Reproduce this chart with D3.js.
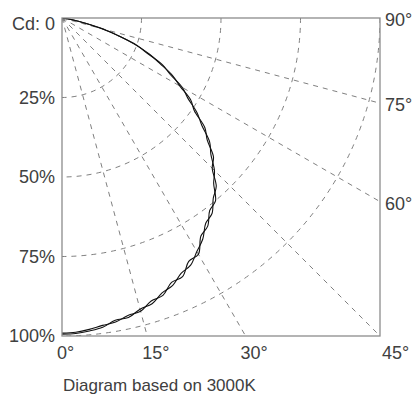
<!DOCTYPE html>
<html>
<head>
<meta charset="utf-8">
<script src="https://cdn.jsdelivr.net/npm/d3@7"></script>
<style>
  body { margin: 0; background: #fff; }
  text { font-family: "Liberation Sans", Arial, sans-serif; fill: #404040; }
</style>
</head>
<body>
<div id="chart"></div>
<script>
// angles (deg, 0 = straight down) and relative intensity of the two curves
var angles = [0, 2.5, 5, 7.5, 10, 12.5, 15, 17.5, 20, 22.5, 25, 27.5, 30, 32.5, 35, 37.5, 40, 42.5,
  45, 47.5, 50, 52.5, 55, 57.5, 60, 62.5, 65, 67.5, 70, 72.5, 75, 77.5, 80, 82.5, 85, 87.5, 90];
var curveA = [0.994, 0.993, 0.988, 0.981, 0.965, 0.965, 0.948, 0.942, 0.920, 0.910, 0.886, 0.876, 0.848, 0.824,
  0.788, 0.775, 0.740, 0.718, 0.668, 0.646, 0.596, 0.566, 0.508, 0.480, 0.428, 0.392, 0.341, 0.298,
  0.245, 0.190, 0.130, 0.075, 0.035, 0.012, 0.003, 0, 0];
var curveB = [0.991, 0.989, 0.983, 0.975, 0.971, 0.958, 0.955, 0.933, 0.928, 0.900, 0.897, 0.863, 0.858, 0.813,
  0.799, 0.763, 0.751, 0.706, 0.678, 0.635, 0.606, 0.554, 0.518, 0.469, 0.437, 0.383, 0.349, 0.290,
  0.250, 0.185, 0.134, 0.072, 0.037, 0.011, 0.003, 0, 0];

var leftLabels = ["Cd: 0", "25%", "50%", "75%", "100%"];
var leftValues = [0, 0.25, 0.5, 0.75, 1];
var bottomAngles = [0, 15, 30, 45];
var rightAngles = [90, 75, 60];
var gridRings = [0.25, 0.5, 0.75, 1];
var gridSpokes = [15, 30, 45, 60, 75];

var W = 417, H = 397;
var ox = 62, oy = 18, size = 318;

var svg = d3.select("#chart").append("svg")
  .attr("width", W)
  .attr("height", H);

var r = d3.scaleLinear().domain([0, 1]).range([0, size]);
var rad = function (deg) { return deg * Math.PI / 180; };

svg.append("clipPath").attr("id", "box")
  .append("rect")
  .attr("x", 0).attr("y", 0)
  .attr("width", size).attr("height", size);

var g = svg.append("g")
  .attr("transform", "translate(" + ox + "," + oy + ")");

var plot = g.append("g").attr("clip-path", "url(#box)");

// dashed rings
plot.selectAll(".ring")
  .data(gridRings)
  .enter()
  .append("circle")
  .attr("cx", 0)
  .attr("cy", 0)
  .attr("r", function (d) { return r(d); })
  .style("fill", "none")
  .style("stroke", "#808080")
  .style("stroke-width", 1)
  .style("stroke-dasharray", "5,5");

// dashed spokes
var radial = d3.lineRadial()
  .angle(function (d) { return Math.PI - rad(d[0]); })
  .radius(function (d) { return r(d[1]); });

plot.selectAll(".spoke")
  .data(gridSpokes)
  .enter()
  .append("path")
  .attr("d", function (d) { return radial([[d, 0], [d, 2]]); })
  .style("fill", "none")
  .style("stroke", "#808080")
  .style("stroke-width", 1)
  .style("stroke-dasharray", "5,5");

// intensity curves
[curveA, curveB].forEach(function (vals) {
  plot.append("path")
    .datum(angles.map(function (a, i) { return [a, vals[i]]; }))
    .attr("d", radial.curve(d3.curveCatmullRom))
    .style("fill", "none")
    .style("stroke", "#111")
    .style("stroke-width", 1.1);
});

// frame
g.append("rect")
  .attr("width", size)
  .attr("height", size)
  .style("fill", "none")
  .style("stroke", "#8c8c8c")
  .style("stroke-width", 1.3);

// left labels
g.selectAll(".lab-left")
  .data(leftValues)
  .enter()
  .append("text")
  .attr("x", -7)
  .attr("y", function (d, i) { return r(d) + (i === 0 ? 6 : 0); })
  .attr("text-anchor", "end")
  .attr("dominant-baseline", "central")
  .style("font-size", "18px")
  .text(function (d, i) { return leftLabels[i]; });

// bottom labels
g.selectAll(".lab-bottom")
  .data(bottomAngles)
  .enter()
  .append("text")
  .attr("x", function (d) { return d === 45 ? size + 2 : r(Math.tan(rad(d))) - 5; })
  .attr("y", size + 23)
  .style("font-size", "18px")
  .text(function (d) { return d + "°"; });

// right labels
g.selectAll(".lab-right")
  .data(rightAngles)
  .enter()
  .append("text")
  .attr("x", size + 5)
  .attr("y", function (d) { return (d === 90 ? 0 : r(1 / Math.tan(rad(d)))) + 2; })
  .attr("dominant-baseline", "central")
  .style("font-size", "18px")
  .text(function (d) { return d + "°"; });

// note
svg.append("text")
  .attr("x", 63)
  .attr("y", 391)
  .style("font-size", "17px")
  .text("Diagram based on 3000K");
</script>
</body>
</html>
